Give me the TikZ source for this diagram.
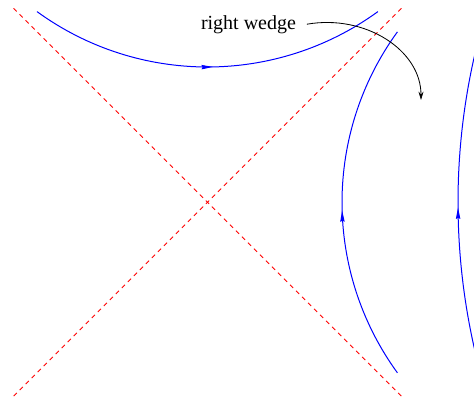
\documentclass[tikz,border=0pt]{standalone}
\usepackage{fontspec}
\setmainfont{Liberation Serif}
\usetikzlibrary{arrows.meta, decorations.markings}

\begin{document}
\begin{tikzpicture}[
      x=0.6pt, y=0.6pt,
      cone/.style={red, line width=0.5pt, dash pattern=on 2.7pt off 2.4pt},
      orbit/.style={blue, line width=0.6pt},
      flow/.style={postaction={decorate}, decoration={markings,
                   mark=at position #1 with {\arrow{Stealth[length=6.8pt,width=2.6pt,inset=0.6pt]}}}},
      arr/.style={-{Stealth[length=5pt,width=3pt]}, line width=0.5pt}
    ]
      \useasboundingbox (0,0) rectangle (474,400);
      % light cone
      \draw[cone] (13.5,391.7) -- (401.5,3.7);
      \draw[cone] (401.5,391.7) -- (13.5,3.7);
      % orbits
      \draw[orbit, flow=0.515] (37,388.4) arc[start angle=234, end angle=306, radius=290];
      \draw[orbit, flow=0.478] (397.4,27.2) arc[start angle=216, end angle=144, radius=290];
      \begin{scope}
        \clip (0,0) rectangle (474,400);
        \draw[orbit, flow=0.484] (477.6,38) arc[start angle=194, end angle=166, radius=660];
      \end{scope}
      % label
      \node[anchor=base, font=\fontsize{12}{14}\selectfont] (lbl) at (248.5,371) {right wedge};
      \coordinate (tip) at (421,300);
      \draw[arr] ([xshift=3pt]lbl.east) .. controls (365,386) and (421,350) .. (tip);
    \end{tikzpicture}
\end{document}
